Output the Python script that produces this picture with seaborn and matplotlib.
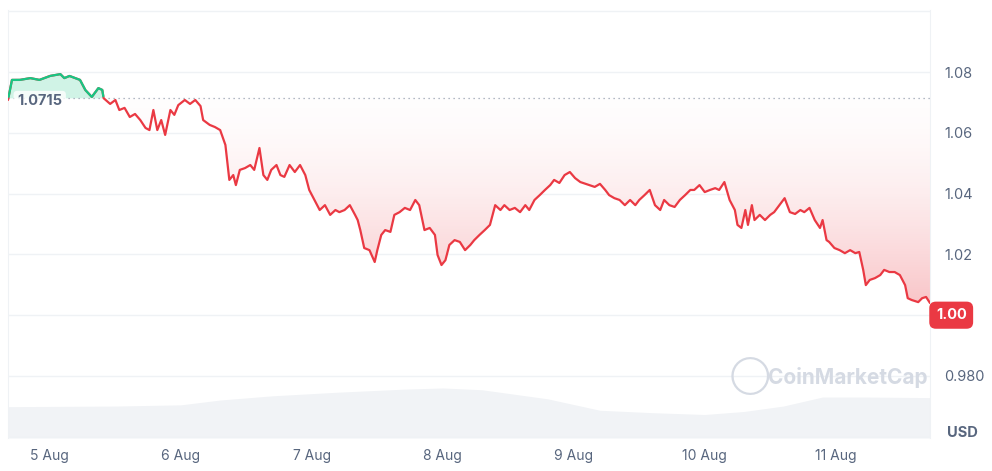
import numpy as np
import pandas as pd
import seaborn as sns
import matplotlib.pyplot as plt
from matplotlib.colors import LinearSegmentedColormap
from matplotlib.patches import Polygon

# (day after 5 Aug 00:00, price in USD)
samples = [
    (-0.32, 1.0708), (-0.29, 1.0774), (-0.23, 1.0774), (-0.15, 1.0780), (-0.08, 1.0774),
    (0.00, 1.0787), (0.08, 1.0793), (0.11, 1.0780), (0.15, 1.0787), (0.23, 1.0774),
    (0.27, 1.0741), (0.32, 1.0718), (0.37, 1.0747), (0.40, 1.0741), (0.41, 1.0714),
    (0.46, 1.0695), (0.50, 1.0708), (0.53, 1.0675), (0.57, 1.0682), (0.61, 1.0652),
    (0.65, 1.0662), (0.69, 1.0642), (0.73, 1.0616), (0.76, 1.0609), (0.79, 1.0675),
    (0.82, 1.0609), (0.85, 1.0642), (0.88, 1.0593), (0.92, 1.0675), (0.95, 1.0659),
    (0.98, 1.0691), (1.03, 1.0708), (1.07, 1.0695), (1.11, 1.0708), (1.15, 1.0688),
    (1.17, 1.0642), (1.22, 1.0626), (1.26, 1.0619), (1.30, 1.0609), (1.34, 1.0560),
    (1.37, 1.0445), (1.40, 1.0461), (1.42, 1.0428), (1.45, 1.0478), (1.49, 1.0484),
    (1.53, 1.0494), (1.56, 1.0478), (1.60, 1.0550), (1.63, 1.0461), (1.66, 1.0445),
    (1.69, 1.0478), (1.73, 1.0494), (1.76, 1.0461), (1.79, 1.0455), (1.83, 1.0494),
    (1.87, 1.0471), (1.91, 1.0494), (1.95, 1.0461), (1.98, 1.0412), (2.02, 1.0379),
    (2.06, 1.0346), (2.10, 1.0362), (2.14, 1.0330), (2.18, 1.0346), (2.21, 1.0339),
    (2.25, 1.0346), (2.29, 1.0362), (2.33, 1.0330), (2.35, 1.0313), (2.37, 1.0280),
    (2.40, 1.0221), (2.44, 1.0214), (2.48, 1.0175), (2.50, 1.0214), (2.53, 1.0264),
    (2.56, 1.0280), (2.60, 1.0274), (2.63, 1.0330), (2.67, 1.0339), (2.71, 1.0353),
    (2.75, 1.0346), (2.79, 1.0379), (2.82, 1.0362), (2.86, 1.0280), (2.90, 1.0287),
    (2.94, 1.0264), (2.96, 1.0198), (2.99, 1.0165), (3.02, 1.0181), (3.05, 1.0231),
    (3.09, 1.0247), (3.13, 1.0241), (3.17, 1.0214), (3.21, 1.0231), (3.24, 1.0247),
    (3.28, 1.0264), (3.32, 1.0280), (3.36, 1.0297), (3.40, 1.0362), (3.44, 1.0346),
    (3.47, 1.0362), (3.51, 1.0346), (3.55, 1.0353), (3.59, 1.0339), (3.63, 1.0362),
    (3.66, 1.0346), (3.70, 1.0379), (3.74, 1.0395), (3.78, 1.0412), (3.82, 1.0428),
    (3.85, 1.0445), (3.89, 1.0435), (3.93, 1.0461), (3.97, 1.0471), (4.01, 1.0451),
    (4.05, 1.0438), (4.12, 1.0428), (4.16, 1.0422), (4.20, 1.0432), (4.24, 1.0412),
    (4.27, 1.0395), (4.31, 1.0385), (4.35, 1.0379), (4.39, 1.0362), (4.43, 1.0379),
    (4.47, 1.0362), (4.50, 1.0379), (4.54, 1.0395), (4.58, 1.0412), (4.62, 1.0362),
    (4.66, 1.0346), (4.69, 1.0379), (4.73, 1.0362), (4.77, 1.0356), (4.81, 1.0379),
    (4.85, 1.0395), (4.89, 1.0412), (4.92, 1.0412), (4.96, 1.0428), (5.00, 1.0405),
    (5.04, 1.0412), (5.08, 1.0418), (5.11, 1.0412), (5.15, 1.0438), (5.19, 1.0379),
    (5.23, 1.0346), (5.25, 1.0297), (5.28, 1.0287), (5.31, 1.0346), (5.33, 1.0297),
    (5.36, 1.0362), (5.38, 1.0313), (5.42, 1.0330), (5.46, 1.0313), (5.50, 1.0330),
    (5.53, 1.0339), (5.57, 1.0362), (5.61, 1.0385), (5.65, 1.0339), (5.69, 1.0333),
    (5.73, 1.0346), (5.76, 1.0339), (5.80, 1.0353), (5.84, 1.0313), (5.88, 1.0287),
    (5.90, 1.0313), (5.93, 1.0247), (5.95, 1.0241), (5.99, 1.0221), (6.03, 1.0214),
    (6.07, 1.0204), (6.11, 1.0214), (6.15, 1.0204), (6.18, 1.0208), (6.21, 1.0149),
    (6.23, 1.0099), (6.26, 1.0116), (6.30, 1.0122), (6.34, 1.0132), (6.37, 1.0149),
    (6.41, 1.0142), (6.45, 1.0142), (6.49, 1.0132), (6.53, 1.0099), (6.55, 1.0056),
    (6.58, 1.0050), (6.63, 1.0043), (6.66, 1.0056), (6.69, 1.0060), (6.72, 1.0040),
]
vol_days = [-0.32, 0.5, 1.0, 1.3, 1.7, 2.2, 2.7, 3.0, 3.3, 3.8, 4.2, 4.6, 5.0, 5.3, 5.6,
            5.9, 6.2, 6.72]
volume = [5.2, 5.3, 5.5, 6.3, 7.0, 7.6, 8.1, 8.3, 8.0, 6.5, 4.6, 4.2, 3.9, 4.4, 5.3,
          6.8, 6.8, 6.7]
open_price = 1.0715
last_price = 1.00
tick_days = [0, 1, 2, 3, 4, 5, 6]
tick_labels = ["5 Aug", "6 Aug", "7 Aug", "8 Aug", "9 Aug", "10 Aug", "11 Aug"]
price_ticks = [1.08, 1.06, 1.04, 1.02, 0.98]
price_tick_labels = ["1.08", "1.06", "1.04", "1.02", "0.980"]

RED = "#ea3943"
GREEN = "#16c784"
GREY = "#58667e"

sns.set_style("white")
plt.rcParams['font.family'] = ['Inter', 'DejaVu Sans']

fig = plt.figure(figsize=(9.92, 4.71), dpi=100)
ax = fig.add_axes([8 / 992, 33 / 471, 922 / 992, 428 / 471])
ax2 = ax.twinx()
ax.set_zorder(2)
ax.patch.set_visible(False)

df = pd.DataFrame(samples, columns=["day", "price"])
x = df["day"].to_numpy()
y = df["price"].to_numpy()
xmin, xmax = x.min(), x.max()
ymin, ymax = 0.9596, 1.1004

# volume area
ax2.fill_between(vol_days, 0, volume, color="#f1f3f6", lw=0)
ax2.set_ylim(0, 71)
ax2.set_yticks([])
for s in ax2.spines.values():
    s.set_visible(False)

# fine resampling for colour split at the baseline
xf = np.linspace(xmin, xmax, 3000)
yf = np.interp(xf, x, y)

# gradient fill below the open price: faint at the top, stronger towards the bottom
cmap = LinearSegmentedColormap.from_list("redfade", ["white", RED])
grad = np.linspace(1, 0, 256).reshape(-1, 1) ** 1.6
img = ax.imshow(grad, extent=[xmin, xmax, 1.0, open_price], origin="lower",
                cmap=cmap, vmin=-0.03, vmax=3.2, aspect="auto", zorder=1)
poly = Polygon(np.column_stack([np.r_[xf, xf[::-1]],
                                np.r_[np.minimum(yf, open_price), np.full_like(xf, open_price)]]),
               closed=True, transform=ax.transData, facecolor="none", edgecolor="none")
ax.add_patch(poly)
img.set_clip_path(poly)
ax.fill_between(xf, open_price, yf, where=yf > open_price, color=GREEN, alpha=0.2,
                lw=0, interpolate=True, zorder=1)

ax.axhline(open_price, color="#9aa3b2", ls=(0, (1, 3)), lw=0.9, zorder=2)

sns.lineplot(data=df, x="day", y="price", ax=ax, color=RED, lw=1.6, zorder=3)
yg = np.where(yf >= open_price, yf, np.nan)
ax.plot(xf, yg, color=GREEN, lw=1.6, zorder=4)

ax.set_xlim(xmin, xmax)
ax.set_ylim(ymin, ymax)
ax.set_xlabel("")
ax.set_ylabel("")
for v in [0.96, 0.98, 1.00, 1.02, 1.04, 1.06, 1.08, 1.10]:
    ax.axhline(v, color="#eff2f5", lw=1, zorder=0)
ax.set_xticks(tick_days)
ax.set_xticklabels(tick_labels, color=GREY, fontsize=10)
ax.tick_params(axis="x", length=0, pad=8)
ax.yaxis.tick_right()
ax.set_yticks(price_ticks)
ax.set_yticklabels(price_tick_labels, color=GREY, fontsize=10.5)
ax.tick_params(axis="y", length=0, pad=10)
for name, s in ax.spines.items():
    s.set_visible(name in ("left", "right"))
    s.set_color("#eff2f5")

ax.text(0.01, (open_price - 0.0012 - ymin) / (ymax - ymin), "1.0715", transform=ax.transAxes,
        color=GREY, fontsize=10.5, fontweight="bold", va="center", ha="left",
        bbox=dict(boxstyle="round,pad=0.25", fc="white", ec="none", alpha=0.8), zorder=5)
ax.text(1.023, (last_price - ymin) / (ymax - ymin), "1.00", transform=ax.transAxes,
        color="white", fontsize=10.5, fontweight="bold", va="center", ha="center",
        bbox=dict(boxstyle="round,pad=0.45", fc=RED, ec="none"), zorder=6, clip_on=False)
fig.text(947 / 992, 1 - 433 / 471, "USD", color=GREY, fontsize=10.5, fontweight="bold",
         va="center")
fig.text(768 / 992, 1 - 377 / 471, "CoinMarketCap", color="#d5dae3", fontsize=15,
         fontweight="bold", va="center")
fig.text(750 / 992, 1 - 376 / 471, "\u25EF", color="#d5dae3", fontsize=20, va="center",
         ha="center")

fig.savefig("out.png", dpi=100)
